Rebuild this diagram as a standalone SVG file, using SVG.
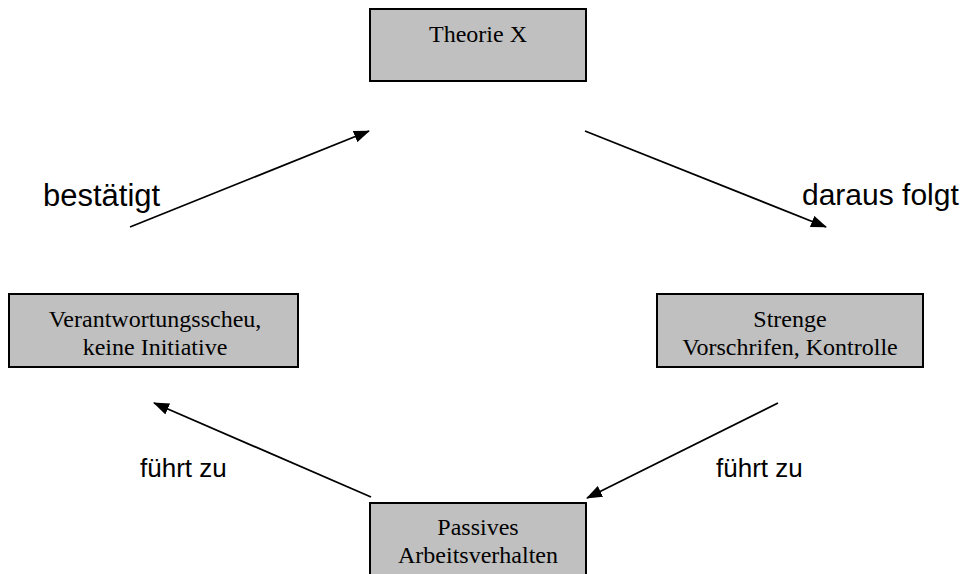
<svg xmlns="http://www.w3.org/2000/svg" width="975" height="574" viewBox="0 0 975 574">
  <style>
    .box { fill: #c0c0c0; stroke: #000; stroke-width: 2; }
    .boxtext { font-family: "Liberation Serif", "Times New Roman", serif; font-size: 24px; fill: #000; text-anchor: middle; }
    .label { font-family: "Liberation Sans", Arial, sans-serif; fill: #000; }
    .conn { stroke: #000; stroke-width: 1.8; fill: none; marker-end: url(#arrow); }
  </style>
  <defs>
    <marker id="arrow" viewBox="0 0 16 12" refX="15" refY="6" markerWidth="16" markerHeight="12" markerUnits="userSpaceOnUse" orient="auto">
      <path d="M0,0 L16,6 L0,12 Z" fill="#000"/>
    </marker>
  </defs>
  <rect width="975" height="574" fill="#fff"/>

  <!-- cycle nodes -->
  <g id="theorie-x">
    <rect class="box" x="370" y="9" width="216" height="72"/>
    <text class="boxtext" x="478" y="42">Theorie X</text>
  </g>
  <g id="strenge-vorschriften">
    <rect class="box" x="657" y="294" width="266" height="73"/>
    <text class="boxtext" x="790" y="327">Strenge</text>
    <text class="boxtext" x="790" y="355">Vorschrifen, Kontrolle</text>
  </g>
  <g id="passives-arbeitsverhalten">
    <rect class="box" x="370" y="503" width="216" height="80"/>
    <text class="boxtext" x="478" y="535">Passives</text>
    <text class="boxtext" x="478" y="563">Arbeitsverhalten</text>
  </g>
  <g id="verantwortungsscheu">
    <rect class="box" x="9" y="294" width="289" height="73"/>
    <text class="boxtext" x="155" y="327">Verantwortungsscheu,</text>
    <text class="boxtext" x="155" y="355">keine Initiative</text>
  </g>

  <!-- connectors -->
  <g id="connectors">
    <line class="conn" x1="585" y1="131" x2="826" y2="227"/>
    <line class="conn" x1="778" y1="403" x2="587" y2="498"/>
    <line class="conn" x1="371" y1="497" x2="154" y2="403"/>
    <line class="conn" x1="130" y1="227" x2="369" y2="131"/>
  </g>

  <!-- connector labels -->
  <g id="labels">
    <text class="label" x="43" y="206" font-size="31">bestätigt</text>
    <text class="label" x="802" y="205" font-size="30">daraus folgt</text>
    <text class="label" x="140" y="477" font-size="26">führt zu</text>
    <text class="label" x="716" y="477" font-size="26">führt zu</text>
  </g>
</svg>
